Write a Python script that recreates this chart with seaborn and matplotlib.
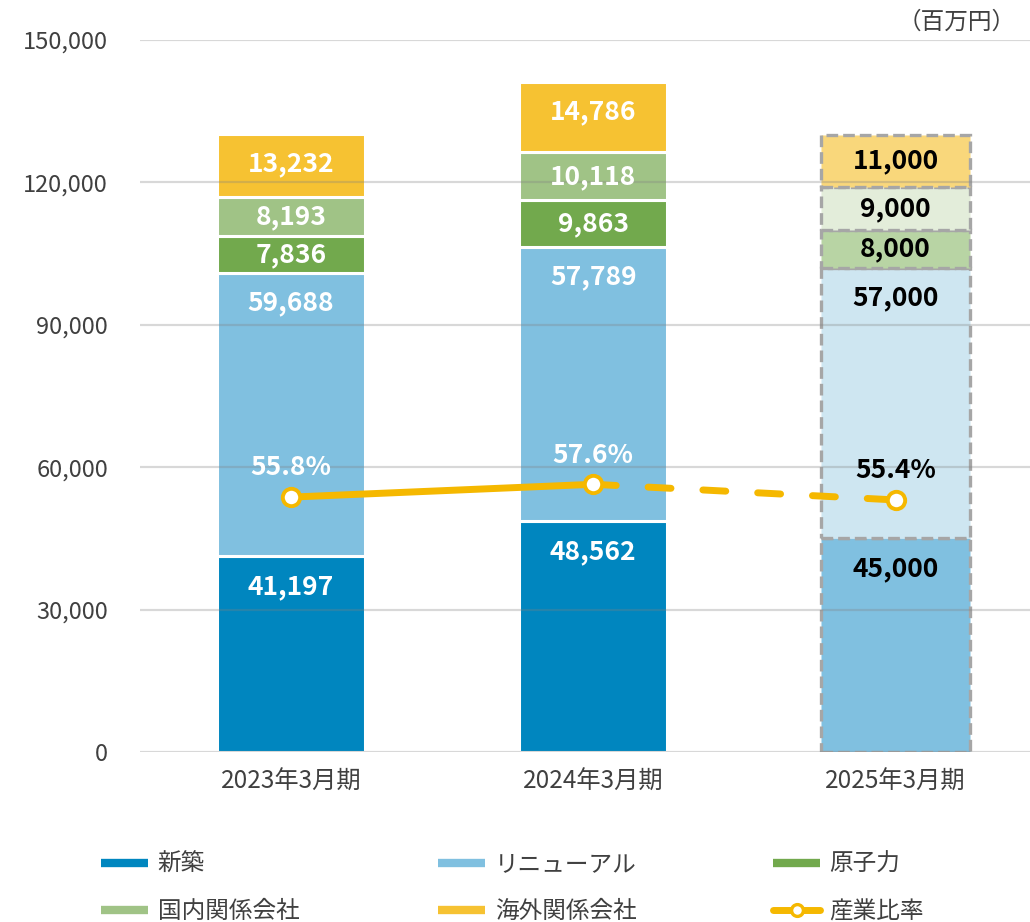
import numpy as np
import pandas as pd
import matplotlib
matplotlib.use('Agg')
import matplotlib.pyplot as plt
from matplotlib.lines import Line2D
import seaborn as sns

# data (百万円)
periods = ['2023年3月期', '2024年3月期', '2025年3月期']
shinchiku = [41197, 48562, 45000]
renewal = [59688, 57789, 57000]
genshiryoku = [7836, 9863, 8000]
kokunai = [8193, 10118, 9000]
kaigai = [13232, 14786, 11000]
ratio = [55.8, 57.6, 55.4]

series_names = ['新築', 'リニューアル', '原子力', '国内関係会社', '海外関係会社']
series_values = [shinchiku, renewal, genshiryoku, kokunai, kaigai]
colors = ['#0086BF', '#80C0E0', '#72A94D', '#A0C386', '#F6C232']
light_colors = ['#80C0E0', '#CEE6F1', '#B8D4A4', '#E3EDDA', '#F9D77B']
ratio_color = '#F5B800'
text_gray = '#404040'

sns.set_theme(style='white')
plt.rcParams['font.family'] = ['Noto Sans CJK JP', 'DejaVu Sans']

df = pd.DataFrame({'period': periods})
for name, vals in zip(series_names, series_values):
    df[name] = vals

fig = plt.figure(figsize=(10.3, 9.22), dpi=100)
ax = fig.add_axes([140 / 1030, 1 - 752 / 922, 890 / 1030, 712 / 922])

bottom = np.zeros(len(periods))
for i, name in enumerate(series_names):
    n_before = len(ax.patches)
    sns.barplot(data=df, x='period', y=name, bottom=bottom, color=colors[i],
                saturation=1, width=0.49, errorbar=None, ax=ax,
                edgecolor='white', linewidth=2.2)
    bars = ax.patches[n_before:]
    # forecast bar: lighter fill, dashed grey outline
    fc = bars[2]
    fc.set_facecolor(light_colors[i])
    fc.set_edgecolor('#A6A6A6')
    fc.set_linewidth(2.4)
    fc.set_linestyle((0, (3.5, 1.5)))
    # value labels near the top of each segment
    vals = np.array(df[name])
    tops = bottom + vals
    for j, v in enumerate(vals):
        y = tops[j] - min(6300, v / 2)
        ax.text(j, y, f'{v:,}', ha='center', va='center', fontsize=19,
                fontweight='bold', color='white' if j < 2 else 'black', zorder=5)
    bottom = tops

ax.set_xlabel('')
ax.set_ylabel('')
ax.set_xlim(-0.5, 2.445)
ax.set_ylim(0, 150000)
yt = np.arange(0, 150001, 30000)
ax.set_yticks(yt)
ax.set_yticklabels([f'{v:,}' for v in yt])
ax.tick_params(axis='y', length=0, pad=23, labelsize=17, labelcolor=text_gray)
ax.tick_params(axis='x', length=0, pad=12, labelsize=17.5, labelcolor=text_gray)
ax.set_axisbelow(False)
ax.yaxis.grid(True, color='#808080', alpha=0.3, lw=1.6)
ax.xaxis.grid(False)
for s in ax.spines.values():
    s.set_visible(False)

# ratio line on hidden secondary axis
ax2 = ax.twinx()
ax2.set_ylim(20, 120)
ax2.set_axis_off()
xs = np.arange(len(periods))
ax2.plot(xs[:2], ratio[:2], color=ratio_color, lw=5, solid_capstyle='round', zorder=3)
ax2.plot(xs[1:], ratio[1:], color=ratio_color, lw=5, linestyle=(0, (3.3, 4.6)),
         dash_capstyle='round', zorder=3)
ax2.plot(xs, ratio, linestyle='none', marker='o', markersize=12.5,
         markerfacecolor='white', markeredgecolor=ratio_color, markeredgewidth=2.8, zorder=4)
for j, r in enumerate(ratio):
    ax2.annotate(f'{r}%', (j, r), xytext=(0, 21), textcoords='offset points',
                 ha='center', va='center', fontsize=19, fontweight='bold',
                 color='white' if j < 2 else 'black', zorder=6)

fig.text(1016 / 1030, 1 - 22 / 922, '（百万円）', ha='right', va='center',
         fontsize=17, color=text_gray)

# legend: three columns of two rows
def bar_handle(c):
    return Line2D([], [], color=c, lw=6, solid_capstyle='butt')

ratio_handle = Line2D([], [], color=ratio_color, lw=5, solid_capstyle='round',
                      marker='o', markersize=8.5, markerfacecolor='white',
                      markeredgecolor=ratio_color, markeredgewidth=2.4)

columns = [
    ([bar_handle(colors[0]), bar_handle(colors[3])], [series_names[0], series_names[3]], 101),
    ([bar_handle(colors[1]), bar_handle(colors[4])], [series_names[1], series_names[4]], 438),
    ([bar_handle(colors[2]), ratio_handle], [series_names[2], '産業比率'], 773),
]
for handles, labels, xpx in columns:
    leg = fig.legend(handles, labels, loc='center left',
                     bbox_to_anchor=(xpx / 1030, 1 - 888 / 922),
                     frameon=False, fontsize=17, handlelength=2.0,
                     handletextpad=0.4, labelspacing=1.02, borderpad=0,
                     borderaxespad=0)
    for t in leg.get_texts():
        t.set_color(text_gray)

fig.savefig('out.png', dpi=100)
